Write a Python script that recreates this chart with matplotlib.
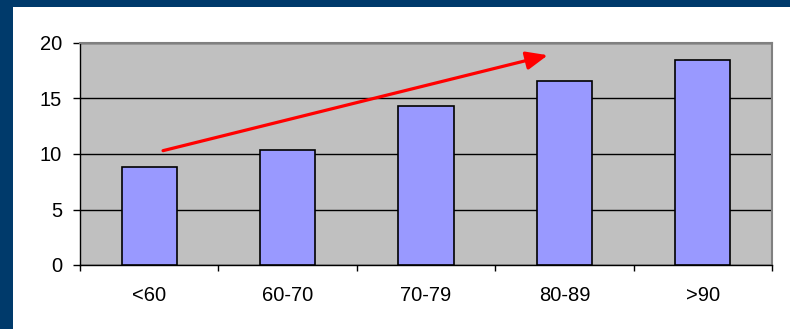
import matplotlib
matplotlib.use("Agg")
import matplotlib.pyplot as plt
from matplotlib.patches import Rectangle

categories = ["<60", "60-70", "70-79", "80-89", ">90"]
values = [8.8, 10.4, 14.3, 16.6, 18.5]
y_ticks = [0, 5, 10, 15, 20]

plt.rcParams["font.family"] = ["Liberation Sans", "DejaVu Sans"]

W, H = 790, 329
fig = plt.figure(figsize=(W / 100, H / 100), dpi=100)
fig.patch.set_facecolor("white")

# navy slide frame along the top and left edges
fig.add_artist(Rectangle((0, 1 - 7 / H), 1, 7 / H, transform=fig.transFigure,
                         facecolor="#003A6B", edgecolor="none", zorder=0))
fig.add_artist(Rectangle((0, 0), 13 / W, 1, transform=fig.transFigure,
                         facecolor="#003A6B", edgecolor="none", zorder=0))

left, right, top, bottom = 80, 772, 43, 265
ax = fig.add_axes([left / W, 1 - bottom / H, (right - left) / W, (bottom - top) / H])
ax.set_facecolor("#C0C0C0")

x = list(range(len(categories)))
ax.bar(x, values, width=0.4, color="#9999FF", edgecolor="black", linewidth=1.2, zorder=3)

ax.set_xlim(-0.5, len(categories) - 0.5)
ax.set_ylim(0, 20)
ax.set_yticks(y_ticks)
ax.yaxis.grid(True, color="black", linewidth=1.0, zorder=1)
ax.set_axisbelow(True)

ax.set_xticks(x)
ax.set_xticklabels(categories)
ax.set_xticks([i - 0.5 for i in range(len(categories) + 1)], minor=True)
ax.tick_params(axis="x", which="major", length=0, pad=15, labelsize=14.5)
ax.tick_params(axis="x", which="minor", length=4.5, width=1, direction="out")
ax.tick_params(axis="y", length=5, width=1, direction="out", pad=8, labelsize=14.5)

for side in ("top", "right"):
    ax.spines[side].set_color("#808080")
    ax.spines[side].set_linewidth(1.5)
for side in ("left", "bottom"):
    ax.spines[side].set_color("black")
    ax.spines[side].set_linewidth(1.0)

# upward trend arrow
ax.annotate("", xy=(2.88, 18.9), xytext=(0.1, 10.3),
            arrowprops=dict(arrowstyle="-|>,head_length=1.3,head_width=0.55",
                            color="#FF0000", lw=2.3, shrinkA=0, shrinkB=0),
            zorder=5)

fig.savefig("out.png", dpi=100, facecolor=fig.get_facecolor())
